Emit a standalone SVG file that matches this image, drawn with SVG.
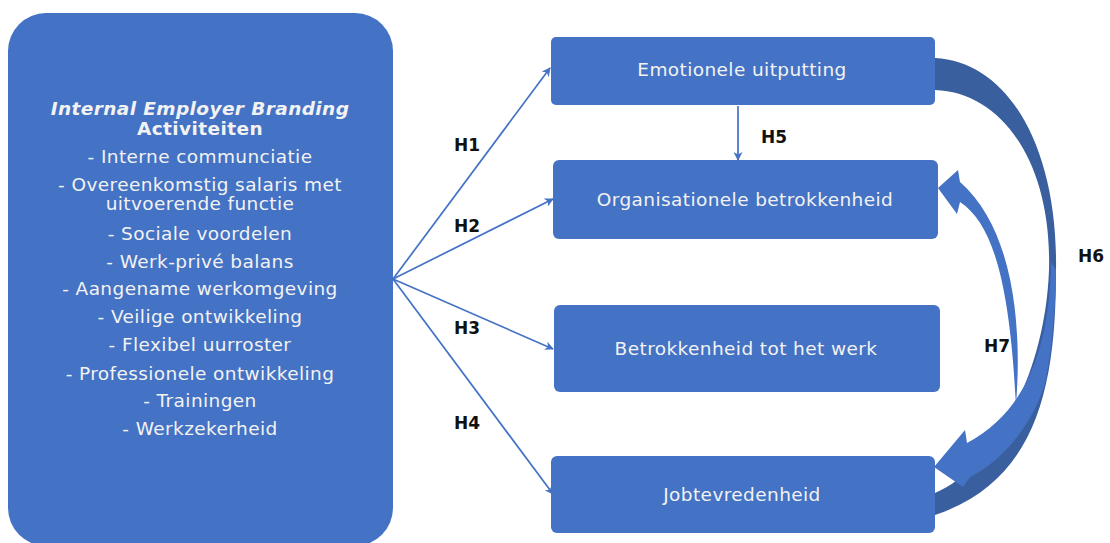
<svg xmlns="http://www.w3.org/2000/svg" width="1110" height="543" viewBox="0 0 1110 543">
<defs>
<style>
.box{fill:#4472C4;}
.lt{font-family:"DejaVu Sans",Verdana,sans-serif;font-size:18.5px;letter-spacing:0.4px;fill:#F2F2F2;text-anchor:middle;}
.bt{font-family:"DejaVu Sans",Verdana,sans-serif;font-size:18.5px;letter-spacing:0.4px;fill:#F2F2F2;text-anchor:middle;}
.hl{font-family:"DejaVu Sans",Verdana,sans-serif;font-size:17px;font-weight:bold;fill:#111;}
.ln{stroke:#4472C4;stroke-width:1.7;fill:none;}
.dark{fill:#3A5F9F;}
.light{fill:#4472C4;}
</style>
<marker id="ah" viewBox="0 0 10 10" refX="9" refY="5" markerWidth="9" markerHeight="9" markerUnits="userSpaceOnUse" orient="auto">
<path d="M0,0 L10,5 L0,10 L3,5 Z" fill="#4472C4"/>
</marker>
</defs>
<rect width="1110" height="543" fill="#FFFFFF"/>

<g id="node-ieb">
<rect class="box" x="8" y="13" width="385" height="533" rx="38"/>
<text class="lt" x="200" y="115" font-weight="bold" font-style="italic">Internal Employer Branding</text>
<text class="lt" x="200" y="135" font-weight="bold">Activiteiten</text>
<text class="lt" x="200" y="163">- Interne communciatie</text>
<text class="lt" x="200" y="191">- Overeenkomstig salaris met</text>
<text class="lt" x="200" y="210">uitvoerende functie</text>
<text class="lt" x="200" y="240">- Sociale voordelen</text>
<text class="lt" x="200" y="268">- Werk-privé balans</text>
<text class="lt" x="200" y="295">- Aangename werkomgeving</text>
<text class="lt" x="200" y="323">- Veilige ontwikkeling</text>
<text class="lt" x="200" y="351">- Flexibel uurroster</text>
<text class="lt" x="200" y="380">- Professionele ontwikkeling</text>
<text class="lt" x="200" y="407">- Trainingen</text>
<text class="lt" x="200" y="435">- Werkzekerheid</text>
</g>

<g id="node-emo">
<rect class="box" x="551" y="37" width="384" height="68" rx="5"/>
<text class="bt" x="742" y="76">Emotionele uitputting</text>
</g>
<g id="node-org">
<rect class="box" x="553" y="160" width="385" height="79" rx="6"/>
<text class="bt" x="745" y="206">Organisationele betrokkenheid</text>
</g>
<g id="node-werk">
<rect class="box" x="554" y="305" width="386" height="87" rx="6"/>
<text class="bt" x="746" y="355">Betrokkenheid tot het werk</text>
</g>
<g id="node-job">
<rect class="box" x="551" y="456" width="384" height="77" rx="6"/>
<text class="bt" x="742" y="501">Jobtevredenheid</text>
</g>

<g id="connectors">
<line class="ln" x1="393" y1="279" x2="550" y2="68" marker-end="url(#ah)"/>
<line class="ln" x1="393" y1="279" x2="553" y2="199" marker-end="url(#ah)"/>
<line class="ln" x1="393" y1="279" x2="553" y2="349" marker-end="url(#ah)"/>
<line class="ln" x1="393" y1="279" x2="553" y2="494" marker-end="url(#ah)"/>
<line class="ln" x1="738" y1="106" x2="738" y2="160" marker-end="url(#ah)"/>
<!-- H6 back (dark) -->
<path class="dark" d="M935,58 C1010,62 1058,150 1056,270 C1056,380 1040,480 935,515 L935,493 C990,470 1045,380 1049,270 C1052,160 1000,92 935,90 Z"/>
<!-- H6 front (light) with arrowhead -->
<path class="light" d="M1051,262 C1050,340 1030,410 967,443 L965,430 L934,467 L963,487 L970,477 C1005,460 1035,420 1046,380 C1053,340 1056,300 1056,270 Z"/>
<!-- H7 -->
<path class="light" d="M960,182 L958,170 L938,188 L957,214 L960,202 C995,225 1010,290 1016,405 C1022,330 1015,230 960,182 Z"/>
</g>

<g id="labels">
<text class="hl" x="454" y="151">H1</text>
<text class="hl" x="454" y="232">H2</text>
<text class="hl" x="454" y="334">H3</text>
<text class="hl" x="454" y="429">H4</text>
<text class="hl" x="761" y="143">H5</text>
<text class="hl" x="1078" y="262">H6</text>
<text class="hl" x="984" y="352">H7</text>
</g>
</svg>
